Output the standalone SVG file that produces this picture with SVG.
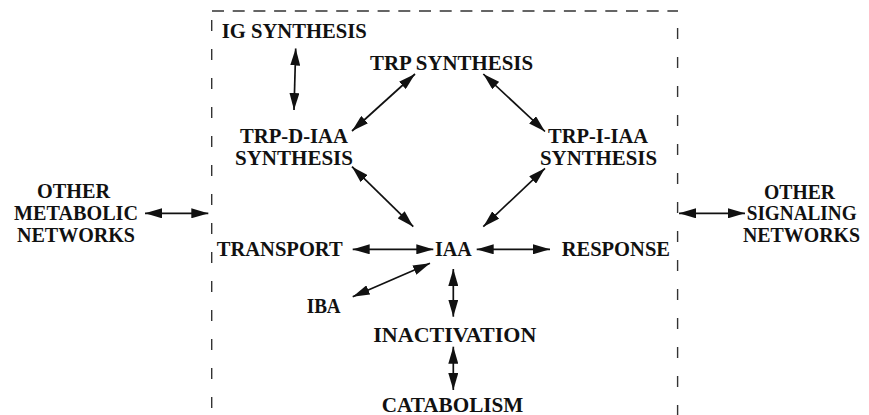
<svg xmlns="http://www.w3.org/2000/svg" width="869" height="415" viewBox="0 0 869 415">
  <style>
    .lbl { font-family: "Liberation Serif", "Times New Roman", serif; font-weight: bold; font-size: 20px; fill: #111; }
    .link { stroke: #111; stroke-width: 1.7; fill: none; marker-start: url(#head); marker-end: url(#head); }
    .frame { stroke: #333; stroke-width: 1.4; fill: none; }
  </style>
  <defs>
    <marker id="head" viewBox="0 0 17 10" markerWidth="17" markerHeight="10" markerUnits="userSpaceOnUse" refX="17" refY="5" orient="auto-start-reverse">
      <path d="M0,0 L17,5 L0,10 Z" fill="#111"/>
    </marker>
  </defs>
  <rect width="869" height="415" fill="#fff"/>

  <!-- auxin boundary: dashed open frame -->
  <g id="boundary">
    <line class="frame" x1="212" y1="11" x2="678" y2="11" stroke-dasharray="12 8.7"/>
    <line class="frame" x1="211.7" y1="20" x2="211.7" y2="415" stroke-dasharray="11 18"/>
    <line class="frame" x1="677.6" y1="28" x2="677.6" y2="415" stroke-dasharray="11 18"/>
  </g>

  <g id="connectors">
    <line class="link" x1="295.7" y1="48.5" x2="294" y2="110"/>
    <line class="link" x1="415" y1="74" x2="352" y2="131"/>
    <line class="link" x1="483.3" y1="74" x2="545" y2="131.5"/>
    <line class="link" x1="352" y1="166.7" x2="413.3" y2="226.7"/>
    <line class="link" x1="545" y1="168.3" x2="483.3" y2="226.7"/>
    <line class="link" x1="145" y1="213.3" x2="208.3" y2="213.3"/>
    <line class="link" x1="679" y1="213.3" x2="745" y2="213.3"/>
    <line class="link" x1="352.7" y1="249.3" x2="433.3" y2="249.3"/>
    <line class="link" x1="476.7" y1="249.3" x2="550" y2="249.3"/>
    <line class="link" x1="430" y1="263.3" x2="352.7" y2="296.7"/>
    <line class="link" x1="453.3" y1="269" x2="453.3" y2="316.7"/>
    <line class="link" x1="453.3" y1="346.7" x2="453.3" y2="390"/>
  </g>

  <g id="ig-synthesis">
    <text class="lbl" x="221.7" y="37.5" textLength="145" lengthAdjust="spacingAndGlyphs">IG SYNTHESIS</text>
  </g>
  <g id="trp-synthesis">
    <text class="lbl" x="370" y="70" textLength="163" lengthAdjust="spacingAndGlyphs">TRP SYNTHESIS</text>
  </g>
  <g id="trp-d-iaa-synthesis">
    <text class="lbl" x="240" y="143.3" textLength="108" lengthAdjust="spacingAndGlyphs">TRP-D-IAA</text>
    <text class="lbl" x="235" y="165" textLength="118" lengthAdjust="spacingAndGlyphs">SYNTHESIS</text>
  </g>
  <g id="trp-i-iaa-synthesis">
    <text class="lbl" x="548" y="143.3" textLength="100" lengthAdjust="spacingAndGlyphs">TRP-I-IAA</text>
    <text class="lbl" x="540" y="165" textLength="117" lengthAdjust="spacingAndGlyphs">SYNTHESIS</text>
  </g>
  <g id="other-metabolic-networks">
    <text class="lbl" x="37" y="198.3" textLength="73" lengthAdjust="spacingAndGlyphs">OTHER</text>
    <text class="lbl" x="14" y="220" textLength="124" lengthAdjust="spacingAndGlyphs">METABOLIC</text>
    <text class="lbl" x="17" y="241.7" textLength="118" lengthAdjust="spacingAndGlyphs">NETWORKS</text>
  </g>
  <g id="other-signaling-networks">
    <text class="lbl" x="764" y="199" textLength="71" lengthAdjust="spacingAndGlyphs">OTHER</text>
    <text class="lbl" x="746.7" y="220" textLength="110" lengthAdjust="spacingAndGlyphs">SIGNALING</text>
    <text class="lbl" x="743" y="242" textLength="117" lengthAdjust="spacingAndGlyphs">NETWORKS</text>
  </g>
  <g id="transport">
    <text class="lbl" x="216.7" y="256" textLength="126" lengthAdjust="spacingAndGlyphs">TRANSPORT</text>
  </g>
  <g id="iaa">
    <text class="lbl" x="435" y="256" textLength="36.7" lengthAdjust="spacingAndGlyphs">IAA</text>
  </g>
  <g id="response">
    <text class="lbl" x="561.7" y="256" textLength="108.3" lengthAdjust="spacingAndGlyphs">RESPONSE</text>
  </g>
  <g id="iba">
    <text class="lbl" x="306.7" y="313" textLength="34" lengthAdjust="spacingAndGlyphs">IBA</text>
  </g>
  <g id="inactivation">
    <text class="lbl" x="373.3" y="341.7" textLength="163" lengthAdjust="spacingAndGlyphs">INACTIVATION</text>
  </g>
  <g id="catabolism">
    <text class="lbl" x="381.7" y="412" textLength="141.6" lengthAdjust="spacingAndGlyphs">CATABOLISM</text>
  </g>
</svg>
